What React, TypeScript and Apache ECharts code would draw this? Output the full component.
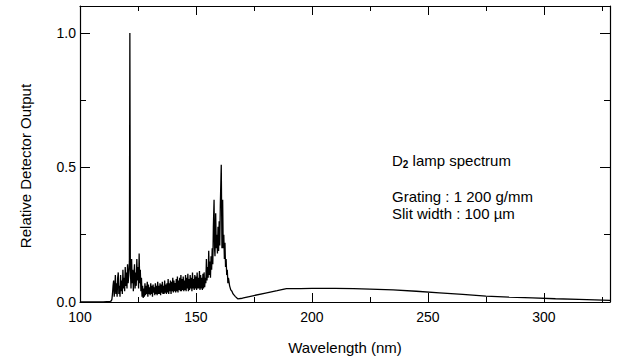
import React, { useEffect, useRef } from "react";
import * as echarts from "echarts";

// Spectrum samples: [wavelength (nm), relative detector output]
const spectrumPoints: number[][] = [
  [100, 0], [105, 0], [110, 0], [113, 0.002], [113.5, 0.004], [113.75, 0.01],
  [114, 0.03], [114.25, 0.06], [114.5, 0.08], [114.75, 0.02], [115, 0.05], [115.25, 0.1],
  [115.5, 0.03], [115.75, 0.07], [116, 0.02], [116.25, 0.09], [116.5, 0.11], [116.75, 0.03],
  [117, 0.06], [117.25, 0.02], [117.5, 0.1], [117.75, 0.04], [118, 0.08], [118.25, 0.03],
  [118.5, 0.12], [118.75, 0.05], [119, 0.09], [119.25, 0.04], [119.5, 0.13], [119.75, 0.06],
  [120, 0.11], [120.25, 0.05], [120.5, 0.14], [120.75, 0.07], [121, 0.1], [121.3, 0.15],
  [121.5, 1.0], [121.7, 0.12], [122, 0.05], [122.25, 0.16], [122.5, 0.07], [122.75, 0.12],
  [123, 0.04], [123.25, 0.1], [123.5, 0.14], [123.75, 0.05], [124, 0.11], [124.25, 0.06],
  [124.5, 0.16], [124.75, 0.08], [125, 0.13], [125.25, 0.05], [125.5, 0.18], [125.75, 0.07],
  [126, 0.12], [126.25, 0.04], [126.5, 0.09], [126.75, 0.02], [127, 0.06], [127.25, 0.015],
  [127.5, 0.05], [127.75, 0.02], [128, 0.07], [128.25, 0.025], [128.5, 0.06], [128.75, 0.03],
  [129, 0.075], [129.25, 0.02], [129.5, 0.065], [129.75, 0.03], [130, 0.055], [130.25, 0.025],
  [130.5, 0.07], [130.75, 0.03], [131, 0.06], [131.25, 0.02], [131.5, 0.065], [131.75, 0.035],
  [132, 0.055], [132.25, 0.025], [132.5, 0.07], [132.75, 0.03], [133, 0.06], [133.25, 0.025],
  [133.5, 0.075], [133.75, 0.03], [134, 0.06], [134.25, 0.03], [134.5, 0.07], [134.75, 0.025],
  [135, 0.065], [135.25, 0.035], [135.5, 0.075], [135.75, 0.03], [136, 0.06], [136.25, 0.03],
  [136.5, 0.08], [136.75, 0.035], [137, 0.065], [137.25, 0.03], [137.5, 0.07], [137.75, 0.035],
  [138, 0.085], [138.25, 0.03], [138.5, 0.07], [138.75, 0.04], [139, 0.08], [139.25, 0.03],
  [139.5, 0.075], [139.75, 0.04], [140, 0.09], [140.25, 0.035], [140.5, 0.08], [140.75, 0.04],
  [141, 0.07], [141.25, 0.035], [141.5, 0.085], [141.75, 0.04], [142, 0.095], [142.25, 0.035],
  [142.5, 0.08], [142.75, 0.045], [143, 0.09], [143.25, 0.04], [143.5, 0.1], [143.75, 0.04],
  [144, 0.085], [144.25, 0.045], [144.5, 0.095], [144.75, 0.04], [145, 0.08], [145.25, 0.045],
  [145.5, 0.1], [145.75, 0.04], [146, 0.09], [146.25, 0.05], [146.5, 0.105], [146.75, 0.04],
  [147, 0.085], [147.25, 0.045], [147.5, 0.1], [147.75, 0.05], [148, 0.09], [148.25, 0.04],
  [148.5, 0.11], [148.75, 0.05], [149, 0.085], [149.25, 0.045], [149.5, 0.1], [149.75, 0.05],
  [150, 0.095], [150.25, 0.045], [150.5, 0.11], [150.75, 0.05], [151, 0.09], [151.25, 0.05],
  [151.5, 0.115], [151.75, 0.045], [152, 0.1], [152.25, 0.05], [152.5, 0.09], [152.75, 0.045],
  [153, 0.105], [153.25, 0.05], [153.5, 0.11], [153.75, 0.055], [154, 0.09], [154.25, 0.07],
  [154.5, 0.16], [154.75, 0.08], [155, 0.13], [155.25, 0.09], [155.5, 0.19], [155.75, 0.1],
  [156, 0.15], [156.25, 0.09], [156.5, 0.17], [156.75, 0.12], [157, 0.2], [157.25, 0.14],
  [157.5, 0.28], [157.8, 0.38], [158, 0.2], [158.2, 0.17], [158.5, 0.33], [158.75, 0.2],
  [159, 0.25], [159.25, 0.18], [159.5, 0.28], [159.75, 0.19], [160, 0.3], [160.25, 0.21],
  [160.5, 0.36], [160.9, 0.51], [161.2, 0.2], [161.5, 0.38], [161.75, 0.2], [162, 0.25],
  [162.25, 0.16], [162.5, 0.22], [162.75, 0.13], [163, 0.16], [163.25, 0.1], [163.5, 0.12],
  [163.75, 0.07], [164, 0.09], [164.5, 0.06], [165, 0.045], [165.5, 0.04], [166, 0.03],
  [167, 0.02], [168, 0.012], [170, 0.014], [175, 0.024], [180, 0.033], [185, 0.042],
  [189, 0.05], [195, 0.05], [200, 0.051], [210, 0.051], [218, 0.05], [225, 0.048],
  [235, 0.045], [245, 0.04], [255, 0.034], [265, 0.028], [275, 0.022], [285, 0.018],
  [295, 0.015], [305, 0.012], [315, 0.01], [322, 0.008], [328.5, 0.006],
];

const xTickValues = [100, 150, 200, 250, 300];
const yTickValues = [0, 0.5, 1.0];
const annotationLines = ["Grating : 1 200 g/mm", "Slit width : 100 µm"];

const FONT = "'Liberation Sans', Arial, sans-serif";

export default function App() {
  const ref = useRef<HTMLDivElement>(null);

  useEffect(() => {
    if (!ref.current) return;
    const chart = echarts.init(ref.current, undefined, { renderer: "svg" });

    const xMin = 100;
    const xMax = 328.5;
    const yMin = 0;
    const yMax = 1.1;

    const lineStyle = { color: "#000", width: 1.2 };

    const xAxisMaker = (position: string, interval: number, len: number, main: boolean, labels: boolean) => ({
      type: "value",
      position,
      min: xMin,
      max: xMax,
      interval,
      axisLine: { show: main, onZero: false, lineStyle },
      axisTick: { show: true, inside: true, length: len, lineStyle: { color: "#000", width: 1 } },
      axisLabel: labels
        ? {
            show: true,
            color: "#000",
            fontSize: 14,
            fontFamily: FONT,
            margin: 8,
            showMaxLabel: false,
            formatter: (v: number) => (xTickValues.includes(v) ? String(v) : ""),
          }
        : { show: false },
      splitLine: { show: false },
    });

    const yAxisMaker = (position: string, interval: number, len: number, main: boolean, labels: boolean) => ({
      type: "value",
      position,
      min: yMin,
      max: yMax,
      interval,
      axisLine: { show: main, onZero: false, lineStyle },
      axisTick: { show: true, inside: true, length: len, lineStyle: { color: "#000", width: 1 } },
      axisLabel: labels
        ? {
            show: true,
            color: "#000",
            fontSize: 14,
            fontFamily: FONT,
            margin: 4,
            showMaxLabel: false,
            formatter: (v: number) =>
              yTickValues.some((t) => Math.abs(t - v) < 1e-9) ? v.toFixed(1) : "",
          }
        : { show: false },
      splitLine: { show: false },
    });

    chart.setOption({
      animation: false,
      backgroundColor: "#fff",
      grid: { left: 80, right: 8, top: 6, bottom: 50, containLabel: false },
      xAxis: [
        {
          ...xAxisMaker("bottom", 50, 9, true, true),
          name: "Wavelength (nm)",
          nameLocation: "middle",
          nameGap: 38,
          nameTextStyle: { color: "#000", fontSize: 15, fontFamily: FONT },
        },
        xAxisMaker("bottom", 25, 5, false, false),
        xAxisMaker("top", 50, 9, true, false),
        xAxisMaker("top", 25, 5, false, false),
      ],
      yAxis: [
        yAxisMaker("left", 0.5, 10, true, true),
        yAxisMaker("left", 0.25, 6, false, false),
        yAxisMaker("right", 0.5, 10, true, false),
        yAxisMaker("right", 0.25, 6, false, false),
      ],
      series: [
        {
          type: "line",
          xAxisIndex: 0,
          yAxisIndex: 0,
          data: spectrumPoints,
          showSymbol: false,
          symbol: "none",
          lineStyle: { color: "#000", width: 1.3 },
        },
      ],
      graphic: [
        {
          type: "text",
          x: 25,
          y: 166,
          rotation: Math.PI / 2,
          style: {
            text: "Relative Detector Output",
            fill: "#000",
            font: `15px ${FONT}`,
            align: "center",
            verticalAlign: "middle",
          },
        },
        {
          type: "text",
          x: 392,
          y: 160,
          style: {
            text: "{d|D}{s|2}{d| lamp spectrum}",
            fill: "#000",
            align: "left",
            verticalAlign: "middle",
            rich: {
              d: { fontSize: 15, fontFamily: FONT, lineHeight: 18, fill: "#000" },
              s: { fontSize: 10, fontFamily: FONT, fontWeight: "bold", lineHeight: 11, verticalAlign: "bottom", fill: "#000" },
            },
          },
        },
        {
          type: "text",
          x: 392,
          y: 196,
          style: {
            text: annotationLines[0],
            fill: "#000",
            font: `15px ${FONT}`,
            lineHeight: 15,
            align: "left",
            verticalAlign: "middle",
          },
        },
        {
          type: "text",
          x: 392,
          y: 213,
          style: {
            text: annotationLines[1],
            fill: "#000",
            font: `15px ${FONT}`,
            lineHeight: 15,
            align: "left",
            verticalAlign: "middle",
          },
        },
      ],
    });

    return () => chart.dispose();
  }, []);

  return <div ref={ref} style={{ width: 618, height: 360, position: "absolute", left: 0, top: 0 }} />;
}
